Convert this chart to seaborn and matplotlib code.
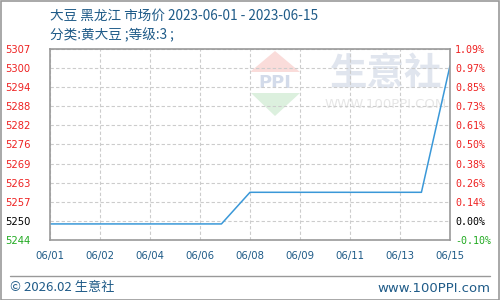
import matplotlib
matplotlib.use("Agg")
import matplotlib.pyplot as plt
import seaborn as sns
import pandas as pd
import numpy as np

# ---- data ----
dates = ["2023-06-01", "2023-06-02", "2023-06-05", "2023-06-06", "2023-06-07",
         "2023-06-08", "2023-06-09", "2023-06-12", "2023-06-13", "2023-06-14",
         "2023-06-15"]
prices = [5250, 5250, 5250, 5250, 5250, 5260, 5260, 5260, 5260, 5260, 5300]
x_tick_labels = ["06/01", "06/02", "06/04", "06/06", "06/08", "06/09", "06/11", "06/13", "06/15"]
y_left_labels = ["5244", "5250", "5257", "5263", "5269", "5276", "5282", "5288", "5294", "5300", "5307"]
y_right_labels = ["-0.10%", "0.00%", "0.14%", "0.26%", "0.38%", "0.50%", "0.61%", "0.73%", "0.85%", "0.97%", "1.09%"]
title_line1 = "大豆 黑龙江 市场价 2023-06-01 - 2023-06-15"
title_line2 = "分类:黄大豆 ;等级:3 ;"
footer_left = "© 2026.02 生意社"
footer_right = "www.100PPI.com"

sns.set_style("white")
plt.rcParams['font.family'] = ['Noto Sans CJK SC', 'DejaVu Sans']

dt = pd.to_datetime(dates)
df = pd.DataFrame({"day": (dt - dt[0]).days, "price": prices})

W, H = 500, 300
fig = plt.figure(figsize=(5, 3), dpi=100)
L, R, T, B = 50, 450, 49, 240
ax = fig.add_axes([L / W, 1 - B / H, (R - L) / W, (B - T) / H])

# watermark
blue_txt = "#1f5b88"
ax.set_axisbelow('line')
def ap(px, py):
    return ((px - L) / (R - L), (B - py) / (B - T))
tri1 = [ap(275, 51), ap(250, 72), ap(300, 72)]
tri2 = [ap(251, 93), ap(300, 93), ap(275, 116)]
for tri, col in [(tri1, "#fadcda"), (tri2, "#dcf0de")]:
    xs, ys = zip(*tri)
    ax.fill(xs, ys, color=col, transform=ax.transAxes, zorder=0.3, lw=0)
x0, y0 = ap(275, 83)
ax.text(x0, y0, "PPI", transform=ax.transAxes, ha="center", va="center",
        fontsize=13, family="DejaVu Sans", fontweight="bold", color="#d3dbea", zorder=0.4)
x0, y0 = ap(386, 73)
ax.text(x0, y0, "生意社", transform=ax.transAxes, ha="center", va="center",
        fontsize=27, color="#e0e5ee", zorder=0.4, fontweight="bold")
x0, y0 = ap(386, 105)
ax.text(x0, y0, "WWW.100PPI.COM", transform=ax.transAxes, ha="center", va="center",
        fontsize=9.5, family="DejaVu Sans", color="#e6e6e6", zorder=0.4)

sns.lineplot(data=df, x="day", y="price", ax=ax, color="#3a98d8", linewidth=1.1, zorder=2)

span = float(df["day"].iloc[-1])
ax.set_xlim(0, span)
ylim = (5244.92, 5305.3)
ax.set_ylim(*ylim)
ax.set_xticks(np.linspace(0, span, len(x_tick_labels)))
ax.set_xticklabels(x_tick_labels)
yt = np.linspace(ylim[0], ylim[1], len(y_left_labels))
ax.set_yticks(yt)
ax.set_yticklabels(y_left_labels)
ax.set_xlabel("")
ax.set_ylabel("")
ax.grid(True, color="#cccccc", linestyle=(0, (3, 2)), linewidth=0.8)
for s in ax.spines.values():
    s.set_color("#999999")
    s.set_linewidth(1.2)
ax.tick_params(axis="x", length=0, pad=8, labelsize=7.3, labelcolor=blue_txt)
ax.tick_params(axis="y", length=0, labelsize=7.2)
for lab in ax.get_xticklabels():
    lab.set_family("DejaVu Sans")
def colr(i):
    return "#22aa22" if i == 0 else ("#000000" if i == 1 else "#ee2222")
for i, lab in enumerate(ax.get_yticklabels()):
    lab.set_color(colr(i))
    lab.set_family("DejaVu Sans")
    lab.set_horizontalalignment("left")
ax.tick_params(axis="y", pad=32)

ax2 = ax.twinx()
ax2.set_ylim(*ylim)
ax2.set_yticks(yt)
ax2.set_yticklabels(y_right_labels)
ax2.tick_params(axis="y", length=0, pad=3.6, labelsize=7.2)
for s in ax2.spines.values():
    s.set_visible(False)
for i, lab in enumerate(ax2.get_yticklabels()):
    lab.set_color(colr(i))
    lab.set_family("DejaVu Sans Mono")

# titles
fig.text(50 / W, 1 - 16 / H, title_line1, fontsize=9.8, color=blue_txt, va="center", ha="left")
fig.text(50 / W, 1 - 35 / H, title_line2, fontsize=9.8, color=blue_txt, va="center", ha="left")

# footer
fig.add_artist(plt.Line2D([10 / W, 490 / W], [1 - 275.5 / H, 1 - 275.5 / H],
                          color="#999999", linewidth=1, transform=fig.transFigure))
fig.text(10 / W, 1 - 288 / H, footer_left, fontsize=9.5, color=blue_txt, va="center", ha="left")
fig.text(490 / W, 1 - 288 / H, footer_right, fontsize=9.5, color=blue_txt, va="center", ha="right",
         family="DejaVu Sans")
fig.add_artist(plt.Rectangle((0.5 / W, 0.5 / H), 1 - 1.5 / W, 1 - 1.5 / H, fill=False,
                             edgecolor="#999999", linewidth=1.2, transform=fig.transFigure))

fig.savefig("out.png", dpi=100)
